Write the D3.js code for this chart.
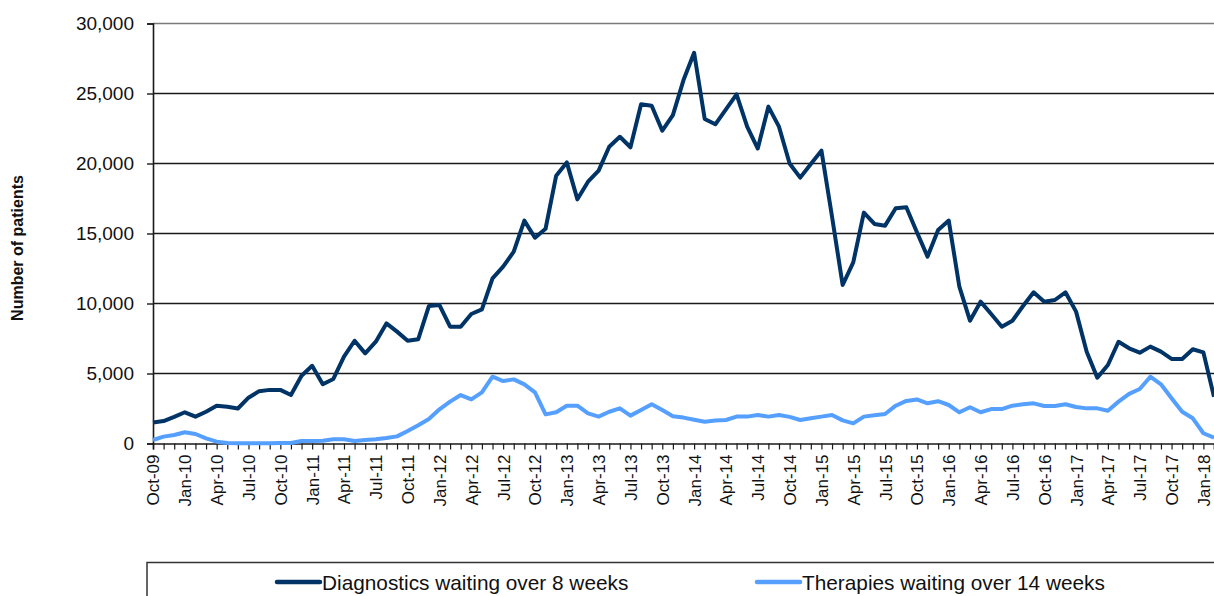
<!DOCTYPE html>
<html>
<head>
<meta charset="utf-8">
<script src="https://cdn.jsdelivr.net/npm/d3@7"></script>
<style>
  html, body { margin: 0; padding: 0; background: #fff; }
  svg { display: block; font-family: "Liberation Sans", Arial, sans-serif; }
</style>
</head>
<body>
<svg id="chart" width="1214" height="596"></svg>
<script>
const months = [
  "Oct-09","Nov-09","Dec-09","Jan-10","Feb-10","Mar-10","Apr-10","May-10","Jun-10","Jul-10","Aug-10","Sep-10",
  "Oct-10","Nov-10","Dec-10","Jan-11","Feb-11","Mar-11","Apr-11","May-11","Jun-11","Jul-11","Aug-11","Sep-11",
  "Oct-11","Nov-11","Dec-11","Jan-12","Feb-12","Mar-12","Apr-12","May-12","Jun-12","Jul-12","Aug-12","Sep-12",
  "Oct-12","Nov-12","Dec-12","Jan-13","Feb-13","Mar-13","Apr-13","May-13","Jun-13","Jul-13","Aug-13","Sep-13",
  "Oct-13","Nov-13","Dec-13","Jan-14","Feb-14","Mar-14","Apr-14","May-14","Jun-14","Jul-14","Aug-14","Sep-14",
  "Oct-14","Nov-14","Dec-14","Jan-15","Feb-15","Mar-15","Apr-15","May-15","Jun-15","Jul-15","Aug-15","Sep-15",
  "Oct-15","Nov-15","Dec-15","Jan-16","Feb-16","Mar-16","Apr-16","May-16","Jun-16","Jul-16","Aug-16","Sep-16",
  "Oct-16","Nov-16","Dec-16","Jan-17","Feb-17","Mar-17","Apr-17","May-17","Jun-17","Jul-17","Aug-17","Sep-17",
  "Oct-17","Nov-17","Dec-17","Jan-18","Feb-18"
];

const diagnostics = [
  1500,1600,1900,2230,1920,2270,2690,2620,2500,3270,3740,3830,
  3830,3460,4840,5550,4230,4610,6200,7340,6440,7270,8580,7990,
  7340,7450,9820,9890,8340,8340,9250,9580,11800,12630,13700,15920,
  14700,15340,19130,20080,17440,18700,19490,21200,21910,21160,24230,24130,
  22340,23460,25960,27910,23180,22800,23870,24940,22630,21070,24060,22630,
  20000,18990,19960,20920,16200,11320,12940,16490,15680,15560,16800,16870,
  15090,13350,15250,15920,11200,8770,10130,9250,8340,8770,9820,10800,
  10130,10250,10800,9420,6560,4700,5610,7270,6800,6490,6920,6560,
  6040,6040,6730,6510,3340
];

const therapies = [
  250,490,610,800,680,370,130,30,20,20,20,20,
  30,30,180,180,200,300,300,180,250,300,390,510,
  890,1300,1750,2440,2990,3460,3150,3650,4770,4460,4580,4220,
  3650,2080,2230,2700,2700,2150,1920,2270,2510,1990,2390,2800,
  2390,1950,1850,1700,1560,1650,1680,1920,1920,2040,1920,2040,
  1900,1680,1800,1920,2040,1650,1440,1920,2010,2110,2700,3040,
  3150,2870,3020,2750,2230,2590,2230,2460,2460,2700,2800,2870,
  2680,2680,2800,2610,2510,2510,2340,2990,3540,3890,4770,4230,
  3230,2270,1800,730,410
];

const yTicks = [0, 5000, 10000, 15000, 20000, 25000, 30000];
const seriesNames = ["Diagnostics waiting over 8 weeks", "Therapies waiting over 14 weeks"];
const seriesColors = ["#003366", "#559fff"];

const svg = d3.select("#chart");
const plotLeft = 153, plotRight = 1214, plotTop = 23.5, plotBottom = 443.5;

const x = d3.scalePoint().domain(months).range([plotLeft, plotRight]);
const y = d3.scaleLinear().domain([0, 30000]).range([plotBottom, plotTop]);

// gridlines
svg.append("g")
  .selectAll("line")
  .data(yTicks.filter(v => v > 0))
  .join("line")
  .attr("x1", plotLeft).attr("x2", plotRight)
  .attr("y1", d => y(d)).attr("y2", d => y(d))
  .attr("stroke", d => d === 30000 ? "#7a7a7a" : "#1a1a1a")
  .attr("stroke-width", 1.4);

// y axis
const yAxis = svg.append("g")
  .attr("transform", `translate(${plotLeft},0)`)
  .call(d3.axisLeft(y).tickValues(yTicks).tickSize(6).tickPadding(13).tickFormat(d3.format(",")));
yAxis.select(".domain").attr("stroke", "#1a1a1a").attr("stroke-width", 1.6);
yAxis.selectAll(".tick line").attr("stroke", "#1a1a1a").attr("stroke-width", 1.4);
yAxis.selectAll("text").attr("font-size", 19).attr("fill", "#111")
  .attr("font-family", "'Liberation Sans', Arial, sans-serif");

// x axis
const xAxis = svg.append("g")
  .attr("transform", `translate(0,${plotBottom})`)
  .call(d3.axisBottom(x).tickSize(6).tickPadding(4)
    .tickFormat((d, i) => i % 3 === 0 ? d : ""));
xAxis.select(".domain").attr("stroke", "#1a1a1a").attr("stroke-width", 1.6);
xAxis.selectAll(".tick line").attr("stroke", "#1a1a1a").attr("stroke-width", 1.2);
xAxis.selectAll("text")
  .attr("font-size", 17).attr("fill", "#111")
  .attr("font-family", "'Liberation Sans', Arial, sans-serif")
  .attr("text-anchor", "end")
  .attr("transform", "rotate(-90)")
  .attr("x", -11).attr("y", 0).attr("dy", "0.35em");

// y axis title
svg.append("text")
  .attr("transform", `translate(23,248) rotate(-90)`)
  .attr("text-anchor", "middle")
  .attr("font-size", 16).attr("font-weight", "bold").attr("fill", "#111")
  .text("Number of patients");

// lines
const line = d3.line()
  .x((d, i) => x(months[i]))
  .y(d => y(d));

[diagnostics, therapies].forEach((s, k) => {
  svg.append("path")
    .datum(s)
    .attr("d", line)
    .attr("fill", "none")
    .attr("stroke", seriesColors[k])
    .attr("stroke-width", 4)
    .attr("stroke-linejoin", "round")
    .attr("stroke-linecap", "butt");
});

// legend
svg.append("rect")
  .attr("x", 147).attr("y", 562.5)
  .attr("width", 1100).attr("height", 60)
  .attr("fill", "#fff").attr("stroke", "#333").attr("stroke-width", 1.5);

const legendPos = [277, 757];
seriesNames.forEach((name, k) => {
  const g = svg.append("g").attr("transform", `translate(${legendPos[k]},582)`);
  g.append("line").attr("x1", 0).attr("x2", 43).attr("y1", 0).attr("y2", 0)
    .attr("stroke", seriesColors[k]).attr("stroke-width", 4.5).attr("stroke-linecap", "round");
  g.append("text").attr("x", 45).attr("y", 0).attr("dy", "0.36em")
    .attr("font-size", 20.8).attr("fill", "#111").text(name);
});
</script>
</body>
</html>
